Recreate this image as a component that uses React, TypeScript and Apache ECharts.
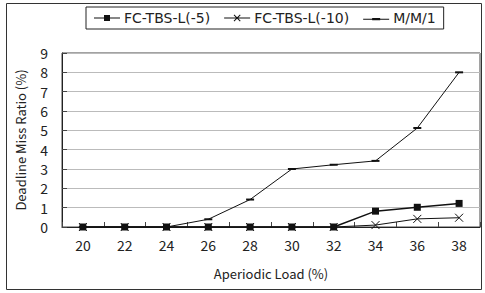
import React, { useEffect, useRef } from "react";
import * as echarts from "echarts";

const categories = ["20", "22", "24", "26", "28", "30", "32", "34", "36", "38"];
const fc5 = [0, 0, 0, 0, 0, 0, 0, 0.82, 1.02, 1.22];
const fc10 = [0, 0, 0, 0, 0, 0, 0, 0.1, 0.42, 0.48];
const mm1 = [0, 0, 0, 0.4, 1.42, 3.0, 3.22, 3.42, 5.12, 8.0];
const seriesNames = ["FC-TBS-L(-5)", "FC-TBS-L(-10)", "M/M/1"];

const FONT = "'Noto Sans CJK JP', 'DejaVu Sans', sans-serif";
const LEGEND_FONT = "'DejaVu Sans', sans-serif";

const ICON_SQUARE = "path://M0,4.5H26V5.5H0Z M10,2H16V8H10Z";
const ICON_CROSS =
  "path://M0,4.5H26V5.5H0Z M9.5,2.2L10.2,1.5L16.5,7.8L15.8,8.5Z M15.8,1.5L16.5,2.2L10.2,8.5L9.5,7.8Z";
const ICON_DASH = "path://M0,4.5H26V5.5H0Z M9,1.5H17V1.6H9Z M9,3.8H17V6.2H9Z";

export default function App() {
  const ref = useRef<HTMLDivElement>(null);
  useEffect(() => {
    if (!ref.current) return;
    const chart = echarts.init(ref.current, undefined, { renderer: "svg" });
    const legendItem = (name: string, icon: string) => ({
      name,
      icon,
      itemStyle: { color: "#111", borderWidth: 0, opacity: 1 },
    });
    chart.setOption({
      animation: false,
      textStyle: { fontFamily: FONT, color: "#222" },
      graphic: [
        {
          type: "rect",
          shape: { x: 6.5, y: 3.5, width: 475, height: 286 },
          style: { fill: "none", stroke: "#333", lineWidth: 1 },
          silent: true,
        },
      ],
      legend: {
        data: [
          legendItem(seriesNames[0], ICON_SQUARE),
          legendItem(seriesNames[1], ICON_CROSS),
          legendItem(seriesNames[2], ICON_DASH),
        ],
        left: 86,
        top: 7,
        padding: [4, 8, 4, 8],
        itemGap: 14,
        itemWidth: 26,
        itemHeight: 10,
        borderColor: "#222",
        borderWidth: 1,
        borderRadius: 0,
        textStyle: { fontFamily: LEGEND_FONT, fontSize: 14, color: "#222", padding: [0, 0, 0, -1] },
      },
      grid: {
        left: 62,
        right: 5,
        top: 53,
        bottom: 66,
        show: true,
        borderColor: "#444",
        borderWidth: 1,
        backgroundColor: "transparent",
      },
      xAxis: {
        type: "category",
        data: categories,
        boundaryGap: true,
        name: "Aperiodic Load (%)",
        nameLocation: "middle",
        nameGap: 40,
        nameTextStyle: { fontFamily: FONT, fontSize: 13, color: "#222" },
        axisLine: { show: true, lineStyle: { color: "#222", width: 1 } },
        axisTick: { show: true, inside: true, length: 5, lineStyle: { color: "#444" } },
        axisLabel: { fontFamily: FONT, fontSize: 14, color: "#222", margin: 11 },
        splitLine: { show: false },
      },
      yAxis: {
        type: "value",
        min: 0,
        max: 9,
        interval: 1,
        name: "Deadline Miss Ratio (%)",
        nameLocation: "middle",
        nameGap: 35,
        nameTextStyle: { fontFamily: FONT, fontSize: 13, color: "#222" },
        axisLine: { show: true, lineStyle: { color: "#222", width: 1 } },
        axisTick: { show: true, inside: true, length: 5, lineStyle: { color: "#444" } },
        axisLabel: { fontFamily: FONT, fontSize: 14, color: "#222", margin: 14 },
        splitLine: { show: true, lineStyle: { color: "#bbb", width: 1 } },
      },
      series: [
        {
          name: seriesNames[2],
          type: "line",
          data: mm1,
          symbol: "rect",
          symbolSize: [8, 2],
          lineStyle: { color: "#111", width: 1 },
          itemStyle: { color: "#111" },
          z: 2,
        },
        {
          name: seriesNames[1],
          type: "line",
          data: fc10,
          symbol: "path://M0,0L10,10M10,0L0,10",
          symbolSize: 8,
          lineStyle: { color: "#111", width: 1 },
          itemStyle: { color: "none", borderColor: "#111", borderWidth: 1 },
          z: 3,
        },
        {
          name: seriesNames[0],
          type: "line",
          data: fc5,
          symbol: "rect",
          symbolSize: 7,
          lineStyle: { color: "#111", width: 1.5 },
          itemStyle: { color: "#111" },
          z: 4,
        },
      ],
    });
    return () => chart.dispose();
  }, []);
  return (
    <div
      ref={ref}
      style={{ position: "absolute", left: 0, top: 0, width: 485, height: 293 }}
    />
  );
}
